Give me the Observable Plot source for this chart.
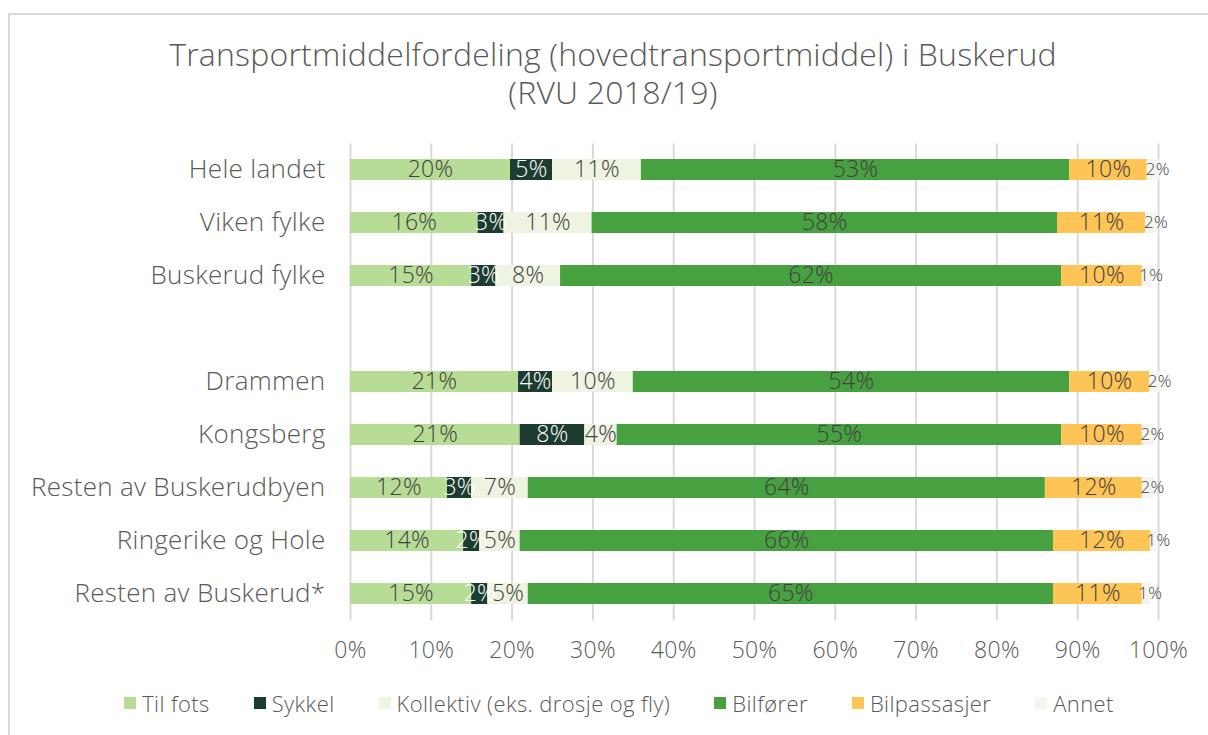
<!DOCTYPE html>
<html>
<head>
<meta charset="utf-8">
<script src="https://cdn.jsdelivr.net/npm/d3@7"></script>
<script src="https://cdn.jsdelivr.net/npm/@observablehq/plot@0.6"></script>
<style>
  html, body { margin: 0; padding: 0; background: #fff; }
  body { width: 1208px; height: 735px; overflow: hidden; position: relative; font-family: "Open Sans", Lato, sans-serif; }
  #frame { position: absolute; left: 8px; top: 13px; width: 1220px; height: 760px; border: 2px solid #d9d9d9; box-sizing: border-box; }
  #title { position: absolute; left: 0; width: 1226px; top: 35px; text-align: center; font-size: 32px; line-height: 38px; color: #595959; font-weight: 300; letter-spacing: 0.2px; }
  #chart { position: absolute; left: 0; top: 0; }
  #legend { position: absolute; left: 0; width: 1238px; top: 688px; display: flex; justify-content: center; gap: 44px; font-size: 22px; color: #595959; font-weight: 300; letter-spacing: 0.4px; }
  #legend .item { display: flex; align-items: center; gap: 6px; }
  #legend .sw { width: 12px; height: 12px; display: inline-block; }
</style>
</head>
<body>
<div id="frame"></div>
<div id="title">Transportmiddelfordeling (hovedtransportmiddel) i Buskerud<br>(RVU 2018/19)</div>
<div id="chart"></div>
<div id="legend"></div>
<script>
// Categories (rows, top to bottom) – areas with a blank spacer row in the axis domain
const areas = ["Hele landet", "Viken fylke", "Buskerud fylke", "Drammen", "Kongsberg", "Resten av Buskerudbyen", "Ringerike og Hole", "Resten av Buskerud*"];
const yDomain = ["Hele landet", "Viken fylke", "Buskerud fylke", " ", "Drammen", "Kongsberg", "Resten av Buskerudbyen", "Ringerike og Hole", "Resten av Buskerud*"];

// Series (travel modes)
const modes = ["Til fots", "Sykkel", "Kollektiv (eks. drosje og fly)", "Bilfører", "Bilpassasjer", "Annet"];
const colors = ["#b7dc95", "#1c3c30", "#eef3e2", "#48a141", "#ffc456", "#f4f5ef"];

// Values in percent
const tilFots     = [19.8, 15.8, 15.0, 20.8, 21.0, 12.0, 14.0, 15.0];
const sykkel      = [5.2, 3.2, 3.0, 4.2, 8.0, 3.0, 2.0, 2.0];
const kollektiv   = [11.0, 10.9, 8.0, 10.0, 4.0, 7.0, 5.0, 5.0];
const bilforer    = [53.0, 57.6, 62.0, 54.0, 55.0, 64.0, 66.0, 65.0];
const bilpass     = [9.6, 10.9, 10.0, 9.9, 10.0, 12.0, 12.0, 11.0];
const annet       = [1.6, 1.6, 1.2, 1.5, 1.5, 1.5, 1.0, 1.0];

// X tick values
const xTicks = [0, 10, 20, 30, 40, 50, 60, 70, 80, 90, 100];

const series = [tilFots, sykkel, kollektiv, bilforer, bilpass, annet];
const table = [];
areas.forEach((area, i) => {
  modes.forEach((mode, j) => {
    table.push({area, mode, value: series[j][i]});
  });
});

const fmt = v => Math.round(v) + "%";

const chart = Plot.plot({
  width: 1208,
  height: 735,
  marginTop: 143.5,
  marginBottom: 114.5,
  marginLeft: 350,
  marginRight: 50,
  style: {fontFamily: "'Open Sans', Lato, sans-serif", fontSize: "20px", fontWeight: 300, color: "#595959", background: "transparent", letterSpacing: "0.3px"},
  x: {domain: [0, 100]},
  y: {domain: yDomain, paddingInner: 0.6, paddingOuter: 0.3},
  color: {domain: modes, range: colors},
  marks: [
    Plot.ruleX(xTicks, {stroke: "#d9d9d9", strokeWidth: 2}),
    Plot.barX(table, Plot.stackX({x: "value", y: "area", fill: "mode", inset: 0})),
    Plot.text(table, Plot.stackX({x: "value", y: "area",
      text: d => (d.mode === "Sykkel" || d.mode === "Annet") ? "" : fmt(d.value),
      fill: "#404040", fontSize: 23})),
    Plot.text(table, Plot.stackX({x: "value", y: "area",
      text: d => d.mode === "Sykkel" ? fmt(d.value) : "",
      fill: "#ffffff", fontSize: 23})),
    Plot.text(table, Plot.stackX({x: "value", y: "area",
      text: d => d.mode === "Annet" ? fmt(d.value) : "",
      fill: "#404040", fontSize: 17, dx: 4})),
    Plot.axisY({tickSize: 0, tickPadding: 25, fontSize: 26, fill: "#595959", label: null, style: {letterSpacing: "0.9px"}}),
    Plot.axisX({ticks: xTicks, tickFormat: d => d + "%", tickSize: 0, tickPadding: 21, fontSize: 23, fill: "#595959", label: null})
  ]
});
document.getElementById("chart").appendChild(chart);

// Legend built from the series names and colours
const legend = document.getElementById("legend");
modes.forEach((m, j) => {
  const item = document.createElement("div");
  item.className = "item";
  const sw = document.createElement("span");
  sw.className = "sw";
  sw.style.background = colors[j];
  const t = document.createElement("span");
  t.textContent = m;
  item.appendChild(sw);
  item.appendChild(t);
  legend.appendChild(item);
});
</script>
</body>
</html>
